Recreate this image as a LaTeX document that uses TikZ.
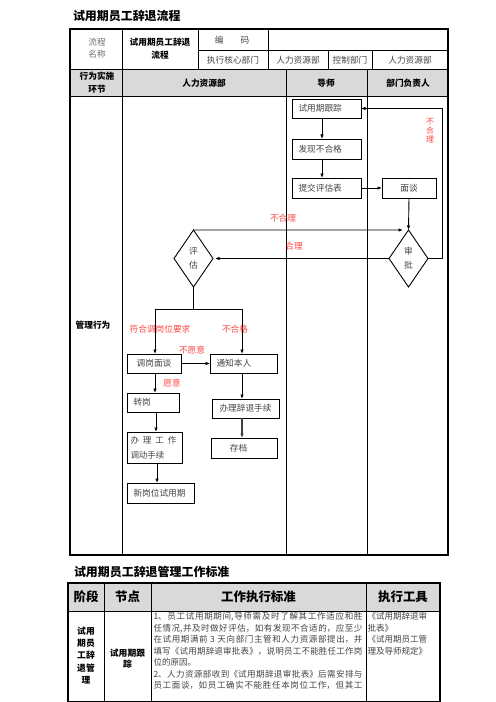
\documentclass[tikz,border=0pt]{standalone}
\usepackage{fontspec}
\setmainfont{Noto Sans CJK SC}
\XeTeXlinebreaklocale "zh"
\XeTeXlinebreakskip=0pt plus 1pt
\usetikzlibrary{arrows.meta,shapes.geometric}
\definecolor{hdrgray}{HTML}{D9D9D9}
\definecolor{txtgray}{HTML}{444444}
\definecolor{ltgray}{HTML}{707070}
\definecolor{lblred}{HTML}{FF4848}
\begin{document}
\begin{tikzpicture}[x=1bp,y=-1bp,
  every node/.style={inner sep=0pt,outer sep=0pt},
  grid/.style={line width=0.8bp},
  frame/.style={line width=2.6bp},
  fbox/.style={draw,line width=0.9bp,minimum height=19bp,font=\fontsize{8.7}{10}\selectfont,text=txtgray},
  lbox/.style={fbox,minimum width=#1,text width=#1-13bp,align=left,inner xsep=6.5bp},
  cbox/.style={fbox,minimum width=#1,align=center},
  dia/.style={draw,diamond,line width=0.9bp,minimum width=39bp,minimum height=57bp,align=center,font=\fontsize{8.7}{14}\selectfont,text=txtgray},
  arr/.style={line width=0.9bp,-{Latex[length=4.5bp,width=3.6bp]}},
  ln/.style={line width=0.9bp},
  lbl/.style={text=lblred,font=\fontsize{8.7}{10}\selectfont},
  htxt/.style={text=txtgray,font=\fontsize{8.7}{12}\selectfont,align=center},
  hbold/.style={font=\fontsize{8.7}{13}\bfseries\selectfont,align=center},
  ttl/.style={font=\fontsize{12}{14}\bfseries\selectfont},
  thdr/.style={font=\fontsize{12.5}{14}\bfseries\selectfont},
  tbody/.style={text=txtgray,font=\fontsize{8.55}{11.5}\selectfont}
]
\useasboundingbox (0,0) rectangle (496,702);
\fill[white] (0,0) rectangle (496,702);

% ---------- title ----------
\node[ttl,anchor=west] (title) at (73,16) {试用期员工辞退流程};

% ---------- frame ----------
\fill[hdrgray] (70,69) rectangle (448,96);
\draw[grid] (198,50) -- (448,50);
\draw[grid] (70,69) -- (448,69);
\draw[grid] (70,96) -- (448,96);
\draw[grid] (122,29) -- (122,555);
\draw[grid] (198,29) -- (198,69);
\draw[grid] (268,29) -- (268,69);
\draw[grid] (328,50) -- (328,69);
\draw[grid] (372,50) -- (372,69);
\draw[grid] (286,69) -- (286,555);
\draw[grid] (367,69) -- (367,555);
\draw[frame] (70,29) rectangle (448,555);

% header texts
\node[htxt,text=ltgray] (h1) at (97,48.5) {流程\\名称};
\node[hbold] (h2) at (160,48.5) {试用期员工辞退\\流程};
\node[htxt] (h3) at (232,40) {编\hspace{17bp}码};
\node[htxt] (h4) at (233,60) {执行核心部门};
\node[htxt] (h5) at (298,60) {人力资源部};
\node[htxt] (h6) at (350,60) {控制部门};
\node[htxt] (h7) at (410,60) {人力资源部};
\node[hbold] (g1) at (97,82.5) {行为实施\\环节};
\node[hbold] (g2) at (204,83) {人力资源部};
\node[hbold] (g3) at (326,83) {导师};
\node[hbold] (g4) at (408,83) {部门负责人};
\node[hbold] (mgmt) at (93,325) {管理行为};

% ---------- flow boxes ----------
\node[lbox=69bp] (track) at (326.5,108.5) {试用期跟踪};
\node[lbox=69bp,minimum height=20bp] (found) at (326.5,149) {发现不合格};
\node[lbox=69bp,minimum height=20bp] (submit) at (326.5,188) {提交评估表};
\node[cbox=54bp,minimum height=20bp] (talk) at (409,188) {面谈};
\node[dia] (shen) at (408.5,258.5) {审\\批};
\node[dia] (ping) at (193.5,258.5) {评\\估};
\node[cbox=54bp] (tg) at (154,363.5) {调岗面谈};
\node[lbox=67bp] (tz) at (243.5,363.5) {通知本人};
\node[lbox=52bp] (zg) at (153,402.5) {转岗};
\node[fbox,minimum width=55bp,text width=48bp,inner xsep=3.5bp,align=left,minimum height=31bp,font=\fontsize{8.5}{15}\selectfont] (bl) at (154.5,447.5) {\mbox{办\hspace{4bp}理\hspace{4bp}工\hspace{4bp}作}\\调动手续};
\node[lbox=67bp,minimum height=20bp] (xg) at (160.5,493) {新岗位试用期};
\node[cbox=67bp] (ct) at (245.5,408.5) {办理辞退手续};
\node[cbox=66bp,minimum height=20bp] (cd) at (244,448) {\hspace{-11bp}存档};

% helper coordinates
\coordinate (xa) at (322,0);
\coordinate (nhend) at (403,230);
\coordinate (loopA) at (442,258.5);
\coordinate (loopB) at (442,108.5);
\coordinate (split) at (193.5,309);
\coordinate (splitL) at (155,309);
\coordinate (splitR) at (242,309);
\coordinate (xl1) at (155,0);
\coordinate (xl2) at (156,0);
\coordinate (xl3) at (157,0);

% ---------- connectors ----------
\draw[arr] (track.south -| xa) -- (found.north -| xa);
\draw[arr] (found.south -| xa) -- (submit.north -| xa);
\draw[arr] (submit.east) -- (talk.west);
\draw[arr] (talk.south) -- (shen.north);
\draw[arr] (ping.north) -- (nhend);
\draw[arr,shorten >=2bp] (shen.west) -- (ping.east);
\draw[arr] (shen.east) -- (loopA) -- (loopB) -- (track.east);
\draw[ln] (ping.south) -- (split);
\draw[ln] (splitL) -- (splitR);
\draw[arr] (splitL) -- (tg.north -| splitL);
\draw[arr] (splitR) -- (tz.north -| splitR);
\draw[arr] (tg.east) -- (tz.west);
\draw[arr] (tg.south -| xl1) -- (zg.north -| xl1);
\draw[arr] (zg.south -| xl2) -- (bl.north -| xl2);
\draw[arr] (bl.south -| xl3) -- (xg.north -| xl3);
\draw[arr] (tz.south -| splitR) -- (ct.north -| splitR);
\draw[arr,line width=1.3bp,draw=black!75] (ct.south -| splitR) -- (cd.north -| splitR);

% labels
\node[lbl] (l1) at (283,218) {不合理};
\node[lbl] (l2) at (294,246) {合理};
\node[lbl,align=center,font=\fontsize{8}{9}\selectfont] (l3) at (430,131) {不\\合\\理};
\node[lbl] (l4) at (160,329) {符合调岗位要求};
\node[lbl] (l5) at (235,329) {不合格};
\node[lbl] (l6) at (192,350) {不愿意};
\node[lbl] (l7) at (172,383) {愿意};

% ---------- standard table ----------
\node[ttl,anchor=west] (title2) at (74,572) {试用期员工辞退管理工作标准};
\fill[hdrgray] (68,583) rectangle (440,611);
\draw[line width=0.9bp] (68,611) -- (440,611);
\draw[line width=0.9bp] (104,583) -- (104,701.5);
\draw[line width=0.9bp] (151,583) -- (151,701.5);
\draw[line width=0.9bp] (366,583) -- (366,701.5);
\draw[line width=1.1bp] (68,583) rectangle (440,701.5);
\node[thdr] (t1) at (86,597) {阶段};
\node[thdr] (t2) at (127.5,597) {节点};
\node[thdr] (t3) at (258.5,597) {工作执行标准};
\node[thdr] (t4) at (403,597) {执行工具};
\node[font=\fontsize{8.8}{12.3}\bfseries\selectfont,align=center] (c1) at (86,655.5) {试用\\期员\\工辞\\退管\\理};
\node[font=\fontsize{8.8}{11.5}\bfseries\selectfont,align=center] (c2) at (127.5,658.5) {试用期跟\\踪};
\node[tbody,anchor=north west,text width=209bp,align=justify] (c3) at (153.5,612.5) {1、员工试用期期间,导师需及时了解其工作适应和胜\linebreak 任情况,并及时做好评估，如有发现不合适的，应至少\linebreak 在试用期满前 3 天向部门主管和人力资源部提出，并\linebreak 填写《试用期辞退审批表》，说明员工不能胜任工作岗\linebreak 位的原因。\\2、人力资源部收到《试用期辞退审批表》后需安排与\linebreak 员工面谈，如员工确实不能胜任本岗位工作，但其工\linebreak};
\node[tbody,anchor=north west,text width=70bp,align=left] (c4) at (367.5,612.5) {《试用期辞退审\\批表》\\《试用期员工管\\理及导师规定》};
\end{tikzpicture}
\end{document}
